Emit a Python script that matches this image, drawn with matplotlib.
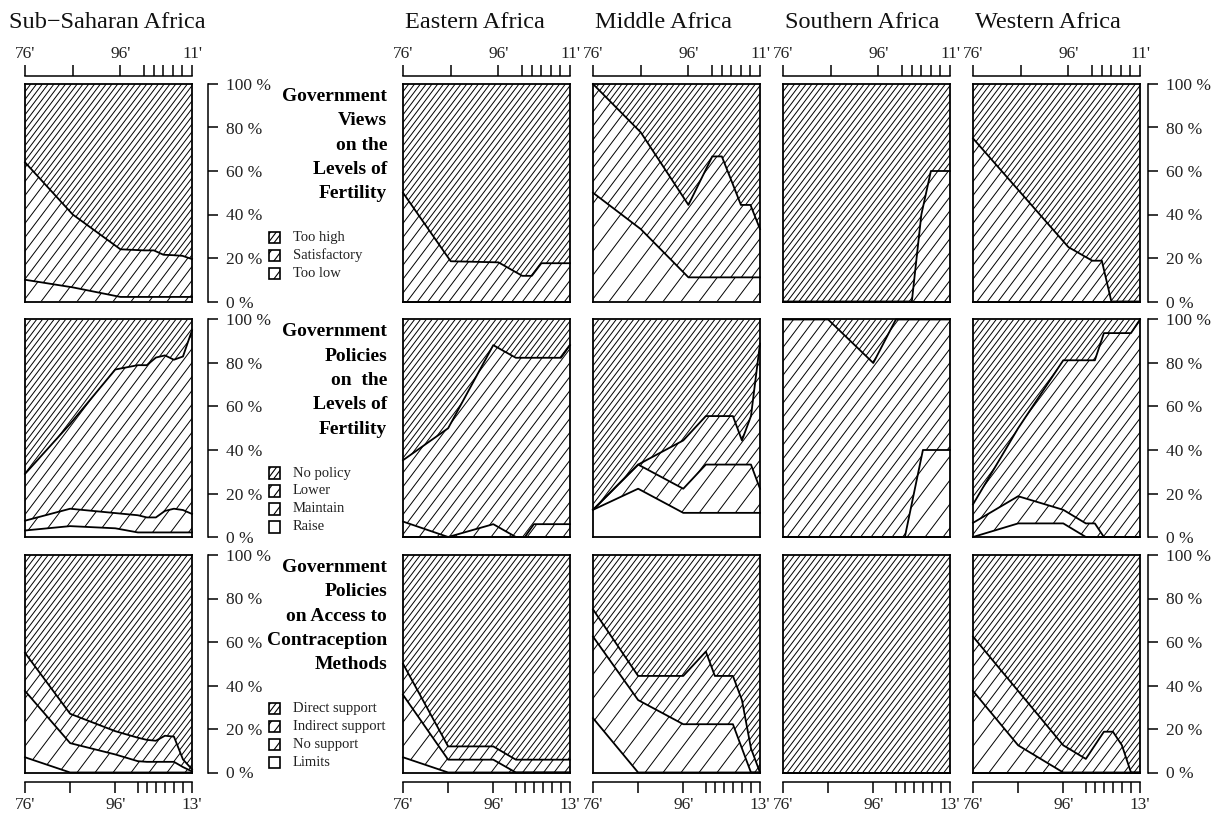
import numpy as np
import matplotlib
matplotlib.use('Agg')
import matplotlib.pyplot as plt
from matplotlib.patches import Polygon, Rectangle
from matplotlib.collections import LineCollection
from matplotlib.transforms import Affine2D

plt.rcParams['font.family'] = ['Liberation Serif', 'DejaVu Serif']

# survey years
years_views = [1976, 1986, 1996, 2001, 2003, 2005, 2007, 2009, 2011]
years_policy = [1976, 1986, 1996, 2001, 2003, 2005, 2007, 2009, 2011, 2013]

regions = ['Sub\u2212Saharan Africa', 'Eastern Africa', 'Middle Africa',
           'Southern Africa', 'Western Africa']

# % of countries, one list per region (same order as regions)
# views on fertility level; "Too high" is the remainder
views_too_low = [
    [10, 6.5, 2.1, 2.1, 2.1, 2.1, 2.1, 2.1, 2.1],
    [0, 0, 0, 0, 0, 0, 0, 0, 0],
    [50, 33.3, 11.1, 11.1, 11.1, 11.1, 11.1, 11.1, 11.1],
    [0, 0, 0, 0, 0, 0, 0, 0, 0],
    [0, 0, 0, 0, 0, 0, 0, 0, 0],
]
views_satisfactory = [
    [54, 33.5, 21.9, 21.4, 21.4, 19.4, 19.2, 18.9, 17.4],
    [50, 18.5, 18, 11.8, 11.8, 17.6, 17.6, 17.6, 17.6],
    [50, 44.5, 33.3, 55.6, 55.6, 44.5, 33.3, 33.3, 22.2],
    [0, 0, 0, 0, 0, 40, 60, 60, 60],
    [75, 50, 25, 18.75, 18.75, 0, 0, 0, 0],
]

# policies on fertility level; "No policy" is the remainder
policy_raise = [
    [3, 5, 4, 2.1, 2.1, 2.1, 2.1, 2.1, 2.1, 2.1],
    [0, 0, 0, 0, 0, 0, 0, 0, 0, 0],
    [12.5, 22.2, 11.1, 11.1, 11.1, 11.1, 11.1, 11.1, 11.1, 11.1],
    [0, 0, 0, 0, 0, 0, 0, 0, 0, 0],
    [0, 6.25, 6.25, 0, 0, 0, 0, 0, 0, 0],
]
policy_maintain = [
    [4.5, 8, 7, 7.9, 6.9, 6.9, 9.9, 10.9, 10.3, 8.5],
    [7.1, 0, 5.9, 0, 0, 5.9, 5.9, 5.9, 5.9, 5.9],
    [0, 11.1, 11.1, 22.2, 22.2, 22.2, 22.2, 22.2, 22.2, 11.1],
    [0, 0, 0, 0, 0, 20, 40, 40, 40, 40],
    [6.5, 12.5, 6.25, 6.25, 6.25, 0, 0, 0, 0, 0],
]
policy_lower = [
    [21.5, 39, 66, 69, 70, 73.5, 71.5, 68.5, 70.6, 84.4],
    [28.2, 50, 82.3, 82.4, 82.4, 76.5, 76.5, 76.5, 76.5, 82.3],
    [0, 0, 22.2, 22.3, 22.3, 22.3, 22.3, 11.1, 22.3, 66.7],
    [100, 100, 80, 100, 100, 80, 60, 60, 60, 60],
    [8.5, 31.25, 68.75, 75, 75, 93.75, 93.75, 93.75, 93.75, 100],
]

# access to contraception; "Direct support" is the remainder
contra_limits = [
    [7, 0, 0, 0, 0, 0, 0, 0, 0, 0],
    [7, 0, 0, 0, 0, 0, 0, 0, 0, 0],
    [25, 0, 0, 0, 0, 0, 0, 0, 0, 0],
    [0, 0, 0, 0, 0, 0, 0, 0, 0, 0],
    [0, 0, 0, 0, 0, 0, 0, 0, 0, 0],
]
contra_no_support = [
    [30.5, 13.5, 8.3, 5.2, 4.9, 4.9, 4.9, 4.9, 2.5, 0.5],
    [28.7, 5.9, 5.9, 0, 0, 0, 0, 0, 0, 0],
    [37.5, 33.3, 22.2, 22.2, 22.2, 22.2, 22.2, 11.1, 0, 0],
    [0, 0, 0, 0, 0, 0, 0, 0, 0, 0],
    [37.5, 12.5, 0, 0, 0, 0, 0, 0, 0, 0],
]
contra_indirect = [
    [17.5, 13.5, 10.7, 10.8, 10.1, 9.7, 12, 11.6, 3.5, 1],
    [14.3, 6.1, 6.1, 5.9, 5.9, 5.9, 5.9, 5.9, 5.9, 5.9],
    [12.5, 11.1, 22.2, 33.4, 22.2, 22.2, 22.2, 22.2, 11.1, 0],
    [0, 0, 0, 0, 0, 0, 0, 0, 0, 0],
    [25, 25, 12.5, 6.25, 12.5, 18.75, 18.75, 12.5, 0, 0],
]

row_titles = [
    ['Government', 'Views', 'on the', 'Levels of', 'Fertility'],
    ['Government', 'Policies', 'on  the', 'Levels of', 'Fertility'],
    ['Government', 'Policies', 'on Access to', 'Contraception', 'Methods'],
]
legend_labels = [
    ['Too high', 'Satisfactory', 'Too low'],
    ['No policy', 'Lower', 'Maintain', 'Raise'],
    ['Direct support', 'Indirect support', 'No support', 'Limits'],
]
pct_ticks = [0, 20, 40, 60, 80, 100]


def remainder(*parts):
    return [list(100 - np.sum([p[i] for p in parts], axis=0)) for i in range(5)]


views_too_high = remainder(views_too_low, views_satisfactory)
policy_none = remainder(policy_raise, policy_maintain, policy_lower)
contra_direct = remainder(contra_limits, contra_no_support, contra_indirect)

# layout (pixels)
FW, FH = 1215, 815
COL_X = [25, 403, 593, 783, 973]
ROW_Y = [84, 319.5, 555]
PW, PH = 167, 217.5
DENSE, MEDIUM, SPARSE = 5.8, 10.5, 18
ANGLE = 53

rows = [
    (years_views, [views_too_low, views_satisfactory, views_too_high], [SPARSE, MEDIUM, DENSE]),
    (years_policy, [policy_raise, policy_maintain, policy_lower, policy_none], [None, SPARSE, MEDIUM, DENSE]),
    (years_policy, [contra_limits, contra_no_support, contra_indirect, contra_direct], [None, SPARSE, MEDIUM, DENSE]),
]


def fig_rect(x, y, w, h):
    return [x / FW, 1 - (y + h) / FH, w / FW, h / FH]


def diag_segments(w, h, spacing, first=None):
    run = h / np.tan(np.radians(ANGLE))
    if first is None:
        starts = np.arange(-run, w + spacing, spacing)
    else:
        starts = np.arange(first, -run - spacing, -spacing)
    return [[(s, 0), (s + run, h)] for s in starts]


fig = plt.figure(figsize=(FW / 100, FH / 100), dpi=100)
ov = fig.add_axes([0, 0, 1, 1])
ov.set_xlim(0, FW)
ov.set_ylim(FH, 0)
ov.axis('off')

for r, (years, cats, dens) in enumerate(rows):
    yrs = np.array(years, dtype=float)
    for c in range(5):
        ax = fig.add_axes(fig_rect(COL_X[c], ROW_Y[r], PW, PH))
        ax.set_xlim(yrs[0], yrs[-1])
        ax.set_ylim(0, 100)
        ax.set_xticks([])
        ax.set_yticks([])
        for sp in ax.spines.values():
            sp.set_linewidth(1.3)
        local = Affine2D().scale(1 / PW, 1 / PH) + ax.transAxes
        base = np.zeros(len(yrs))
        for k, cat in enumerate(cats):
            top = base + np.array(cat[c], dtype=float)
            verts = np.column_stack([np.r_[yrs, yrs[::-1]], np.r_[top, base[::-1]]])
            poly = Polygon(verts, closed=True, facecolor='none', edgecolor='none')
            ax.add_patch(poly)
            if dens[k]:
                lc = LineCollection(diag_segments(PW, PH, dens[k]), colors='black',
                                    linewidths=0.7, transform=local)
                lc.set_clip_path(poly)
                ax.add_collection(lc, autolim=False)
            if k < len(cats) - 1:
                ax.plot(yrs, top, color='black', lw=1.3, clip_on=False)
            base = top

        # outer x axes
        if r == 0 or r == 2:
            ya = 76 if r == 0 else ROW_Y[2] + PH + 9
            xa = fig.add_axes(fig_rect(COL_X[c], ya, PW, 0.01))
            xa.patch.set_visible(False)
            xa.set_xlim(yrs[0], yrs[-1])
            xa.set_yticks([])
            end = "%02d'" % (years[-1] % 100)
            labs = ["76'" if y == 1976 else "96'" if y == 1996 else end if y == years[-1] else ''
                    for y in years]
            xa.set_xticks(years, labels=labs)
            for name in ['left', 'right', 'top', 'bottom']:
                xa.spines[name].set_visible(False)
            if r == 0:
                xa.spines['top'].set_visible(True)
                xa.spines['top'].set_linewidth(1.1)
                xa.tick_params(axis='x', top=True, bottom=False, labeltop=True, labelbottom=False,
                               direction='out', length=8, width=1.1, pad=2,
                               labelsize=12.5, labelcolor='#222')
            else:
                xa.spines['bottom'].set_visible(True)
                xa.spines['bottom'].set_linewidth(1.1)
                xa.tick_params(axis='x', direction='out', length=8, width=1.1, pad=3,
                               labelsize=12.5, labelcolor='#222')

    # outer y axes
    for xline in [208, 1148]:
        yax = fig.add_axes(fig_rect(xline, ROW_Y[r], 0.01, PH))
        yax.patch.set_visible(False)
        yax.set_ylim(0, 100)
        yax.set_xticks([])
        for name in ['left', 'top', 'bottom']:
            yax.spines[name].set_visible(False)
        yax.spines['right'].set_linewidth(1.1)
        yax.yaxis.tick_right()
        yax.set_yticks(pct_ticks, labels=['%d %%' % v for v in pct_ticks])
        yax.tick_params(axis='y', direction='out', length=7, width=1.1, pad=6,
                        labelsize=12.5, labelcolor='#222')

    # row label
    for i, line in enumerate(row_titles[r]):
        ov.text(387, ROW_Y[r] + 17 + i * 24.3, line, ha='right', va='baseline',
                fontsize=14, fontweight='bold', color='black')

    # legend
    leg_dens = dens[::-1]
    for j, lab in enumerate(legend_labels[r]):
        yc = ROW_Y[r] + PH - 64 + 18 * j
        s = 11.5
        x0, y0 = 268.5, yc - s / 2
        box = Rectangle((x0, y0), s, s, facecolor='white', edgecolor='black', lw=1.2)
        ov.add_patch(box)
        if leg_dens[j]:
            segs = [[(x0 + p[0], y0 + s - p[1]) for p in seg]
                    for seg in diag_segments(s, s, leg_dens[j], first=0.45 * s)]
            lc = LineCollection(segs, colors='black', linewidths=0.8)
            ov.add_collection(lc, autolim=False)
            lc.set_clip_path(box)
        ov.text(293, yc, lab, ha='left', va='center', fontsize=10.5, color='#222')

# column titles
for name, x in zip(regions, [9, 405, 595, 785, 975]):
    ov.text(x, 28, name, ha='left', va='baseline', fontsize=17.5, color='#111')

fig.savefig('out.png', dpi=100)
